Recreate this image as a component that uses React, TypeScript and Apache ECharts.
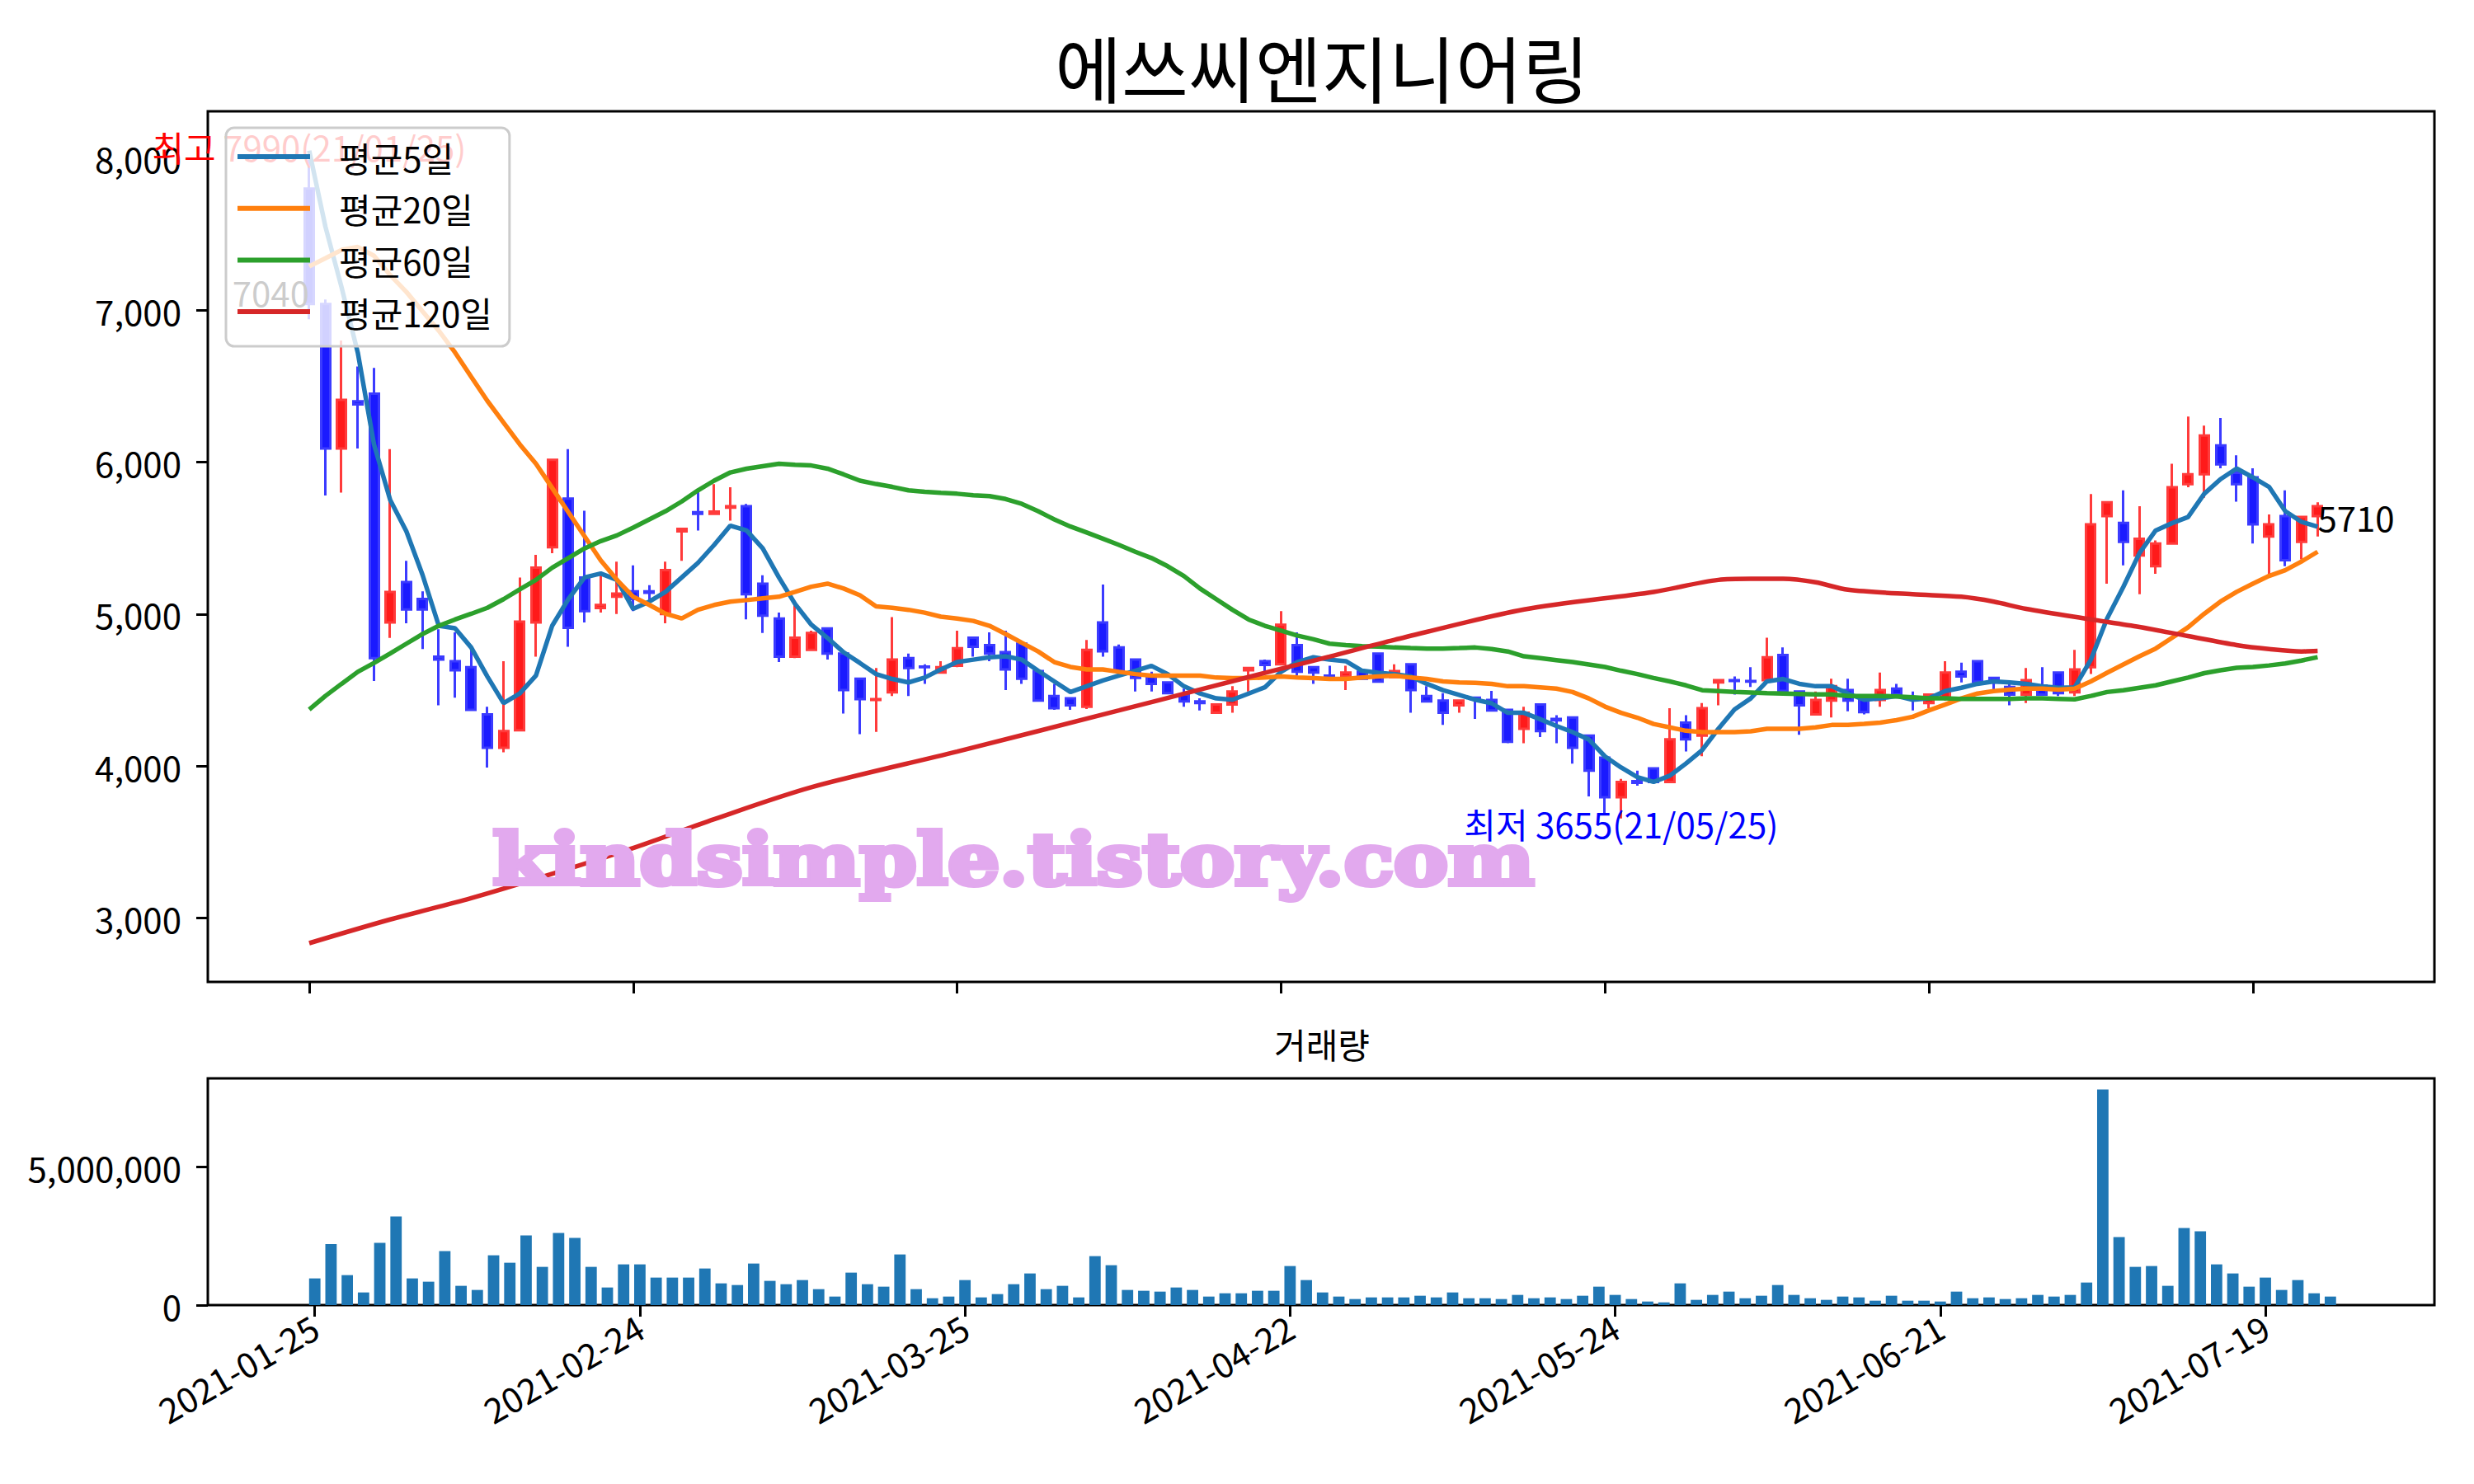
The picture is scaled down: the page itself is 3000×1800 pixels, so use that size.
import React, { useEffect, useRef } from 'react';
import * as echarts from 'echarts';

const chartTitle = '에쓰씨엔지니어링';
const volumeTitle = '거래량';
const watermark = 'kindsimple.tistory.com';
const tickIndex = [0, 20, 40, 60, 80, 100, 120];
const tickDates = ['2021-01-25', '2021-02-24', '2021-03-25', '2021-04-22', '2021-05-24', '2021-06-21', '2021-07-19'];
const priceTicks = [3000, 4000, 5000, 6000, 7000, 8000];
const volumeTicks = [0, 5000000];
const maNames = ['평균5일', '평균20일', '평균60일', '평균120일'];
const maColors = ['#1f77b4', '#ff7f0e', '#2ca02c', '#d62728'];

const openP = [
  7800, 7040, 6090, 6400, 6450, 4945, 5210, 5100, 4720, 4690, 4650, 4340, 4120, 4235, 4945, 5440, 5760, 5240, 5040, 5115,
  5150, 5150, 5000, 5545, 5670, 5660, 5700, 5710, 5200, 4970, 4720, 4765, 4905, 4740, 4575, 4435, 4485, 4710, 4655, 4615,
  4660, 4845, 4795, 4750, 4805, 4625, 4460, 4445, 4390, 4945, 4780, 4700, 4590, 4550, 4470, 4425, 4350, 4405, 4630, 4690,
  4670, 4795, 4650, 4595, 4590, 4620, 4740, 4585, 4670, 4460, 4430, 4400, 4450, 4435, 4370, 4245, 4405, 4310, 4320, 4200,
  4055, 3795, 3900, 3985, 3895, 4285, 4200, 4550, 4565, 4560, 4565, 4730, 4490, 4340, 4430, 4500, 4460, 4435, 4510, 4450,
  4415, 4445, 4620, 4690, 4580, 4520, 4470, 4530, 4615, 4485, 4650, 5645, 5600, 5385, 5315, 5465, 5855, 5920, 6110, 5930,
  5900, 5510, 5645, 5475, 5645,
];
const closeP = [
  7040, 6090, 6410, 6380, 4710, 5146, 5030, 5030, 4700, 4630, 4370, 4120, 4230, 4950, 5305, 6015, 4910, 5020, 5060, 5135,
  5100, 5140, 5290, 5560, 5660, 5675, 5710, 5130, 4990, 4720, 4845, 4875, 4740, 4500, 4440, 4440, 4700, 4645, 4650, 4650,
  4775, 4785, 4740, 4635, 4575, 4430, 4380, 4400, 4765, 4755, 4625, 4580, 4540, 4480, 4425, 4415, 4405, 4490, 4645, 4665,
  4930, 4620, 4615, 4585, 4615, 4575, 4555, 4625, 4500, 4425, 4350, 4430, 4440, 4365, 4160, 4350, 4230, 4300, 4120, 3970,
  3795, 3895, 3890, 3895, 4175, 4175, 4380, 4565, 4560, 4555, 4715, 4495, 4400, 4435, 4525, 4430, 4355, 4500, 4470, 4440,
  4470, 4615, 4590, 4555, 4550, 4470, 4565, 4470, 4480, 4635, 5590, 5735, 5475, 5495, 5465, 5835, 5920, 6175, 5985, 5855,
  5590, 5590, 5355, 5640, 5710,
];
const lowP = [
  6940, 5780, 5800, 6090, 4560, 4843, 4940, 4770, 4400, 4450, 4370, 3990, 4090, 4235, 4720, 5400, 4785, 4945, 5010, 5000,
  5020, 5060, 4940, 5350, 5550, 5655, 5615, 4965, 4875, 4685, 4710, 4760, 4700, 4345, 4210, 4225, 4460, 4460, 4540, 4615,
  4650, 4720, 4690, 4500, 4540, 4425, 4370, 4370, 4375, 4720, 4625, 4490, 4490, 4475, 4390, 4365, 4350, 4350, 4490, 4620,
  4665, 4595, 4540, 4580, 4500, 4570, 4550, 4580, 4350, 4420, 4270, 4350, 4310, 4360, 4150, 4150, 4190, 4150, 4015, 3800,
  3680, 3655, 3870, 3890, 3890, 4095, 4065, 4400, 4470, 4520, 4560, 4490, 4205, 4340, 4320, 4360, 4340, 4390, 4465, 4365,
  4380, 4430, 4550, 4550, 4495, 4400, 4415, 4465, 4460, 4460, 4605, 5200, 5320, 5130, 5265, 5460, 5835, 5765, 5960, 5740,
  5465, 5265, 5315, 5360, 5510,
];
const highP = [
  7990, 7070, 6800, 6630, 6620, 6085, 5350, 5150, 4900, 4880, 4790, 4390, 4690, 5240, 5390, 6015, 6085, 5680, 5260, 5345,
  5320, 5190, 5345, 5560, 5815, 5855, 5835, 5725, 5255, 5010, 5080, 4890, 4910, 4745, 4575, 4645, 4980, 4740, 4670, 4690,
  4890, 4845, 4880, 4890, 4810, 4630, 4540, 4450, 4830, 5195, 4800, 4700, 4620, 4555, 4510, 4445, 4410, 4525, 4650, 4700,
  5020, 4880, 4655, 4660, 4660, 4625, 4745, 4670, 4670, 4525, 4480, 4430, 4450, 4495, 4375, 4390, 4410, 4335, 4320, 4200,
  4055, 3915, 3970, 3990, 4380, 4335, 4415, 4565, 4590, 4650, 4845, 4780, 4490, 4490, 4575, 4575, 4470, 4615, 4540, 4490,
  4470, 4690, 4680, 4690, 4585, 4540, 4645, 4650, 4615, 4765, 5790, 5740, 5815, 5710, 5485, 5990, 6300, 6240, 6290, 6045,
  5960, 5655, 5815, 5640, 5735,
];
const volumes = [
  964000, 2206000, 1083000, 457000, 2246000, 3200000, 964000, 845000, 1948000, 696000,
  547000, 1799000, 1530000, 2514000, 1381000, 2604000, 2425000, 1381000, 636000, 1471000,
  1471000, 994000, 994000, 994000, 1322000, 785000, 725000, 1501000, 875000, 755000,
  904000, 576000, 308000, 1173000, 755000, 666000, 1829000, 576000, 248000, 308000,
  904000, 278000, 398000, 755000, 1143000, 576000, 696000, 278000, 1769000, 1441000,
  547000, 517000, 487000, 636000, 547000, 308000, 427000, 427000, 517000, 517000,
  1411000, 904000, 457000, 308000, 219000, 278000, 278000, 278000, 338000, 278000,
  457000, 248000, 248000, 219000, 368000, 248000, 278000, 219000, 338000, 666000,
  368000, 219000, 129000, 99000, 785000, 189000, 368000, 487000, 248000, 338000,
  725000, 368000, 248000, 189000, 308000, 278000, 159000, 338000, 159000, 159000,
  129000, 487000, 248000, 278000, 219000, 248000, 368000, 308000, 368000, 815000,
  7790000, 2455000, 1381000, 1411000, 696000, 2783000, 2663000, 1471000, 1143000, 666000,
  994000, 547000, 904000, 427000, 308000,
];
const ma5 = [
  8050, 7550, 7150, 6720, 6117, 5751, 5544, 5257, 4923, 4907, 4780, 4589, 4414, 4477, 4595, 4923, 5098, 5241, 5267, 5225,
  5034, 5082, 5146, 5241, 5337, 5455, 5582, 5550, 5432, 5241, 5066, 4930, 4843, 4748, 4678, 4605, 4573, 4550, 4582, 4636,
  4684, 4700, 4716, 4722, 4700, 4627, 4557, 4487, 4525, 4563, 4595, 4627, 4659, 4605, 4525, 4477, 4445, 4436, 4477, 4518,
  4620, 4684, 4716, 4700, 4690, 4627, 4614, 4605, 4589, 4541, 4499, 4468, 4436, 4413, 4350, 4350, 4308, 4264, 4223, 4175,
  4063, 3990, 3927, 3895, 3936, 4016, 4105, 4245, 4372, 4445, 4557, 4573, 4541, 4525, 4525, 4477, 4436, 4445, 4461, 4436,
  4445, 4493, 4515, 4541, 4557, 4550, 4541, 4525, 4515, 4518, 4700, 4971, 5178, 5401, 5550, 5598, 5639, 5792, 5888, 5958,
  5900, 5837, 5677, 5607, 5575,
];
const ma20 = [
  7288, 7342, 7397, 7416, 7358, 7231, 7120, 6992, 6865, 6722, 6562, 6403, 6260, 6117, 5989, 5830, 5671, 5512, 5353, 5225,
  5114, 5060, 5002, 4971, 5028, 5060, 5082, 5092, 5104, 5114, 5146, 5180, 5200, 5168, 5124, 5050, 5041, 5028, 5009, 4983,
  4971, 4955, 4923, 4869, 4811, 4754, 4684, 4652, 4636, 4636, 4620, 4605, 4595, 4595, 4595, 4595, 4582, 4579, 4579, 4582,
  4589, 4582, 4579, 4573, 4573, 4582, 4589, 4595, 4582, 4573, 4557, 4550, 4547, 4541, 4525, 4525, 4518, 4509, 4487, 4445,
  4391, 4350, 4318, 4277, 4254, 4232, 4223, 4223, 4223, 4229, 4245, 4245, 4245, 4254, 4270, 4270, 4277, 4286, 4302, 4324,
  4366, 4404, 4445, 4477, 4493, 4503, 4509, 4509, 4503, 4509, 4557, 4614, 4668, 4722, 4773, 4843, 4913, 5002, 5082, 5146,
  5200, 5251, 5289, 5346, 5410,
];
const ma60 = [
  4372, 4461, 4541, 4620, 4678, 4741, 4805, 4869, 4923, 4964, 5002, 5041, 5098, 5162, 5225, 5305, 5369, 5432, 5480, 5518,
  5569, 5623, 5677, 5741, 5814, 5878, 5932, 5957, 5973, 5989, 5983, 5978, 5957, 5919, 5878, 5856, 5837, 5814, 5805, 5798,
  5792, 5782, 5776, 5757, 5725, 5677, 5623, 5576, 5537, 5496, 5455, 5410, 5369, 5315, 5251, 5168, 5098, 5028, 4964, 4923,
  4891, 4859, 4834, 4805, 4796, 4789, 4786, 4780, 4776, 4773, 4773, 4776, 4780, 4770, 4754, 4722, 4710, 4697, 4684, 4668,
  4652, 4627, 4605, 4579, 4557, 4531, 4499, 4493, 4487, 4484, 4480, 4477, 4474, 4471, 4471, 4461, 4461, 4461, 4458, 4452,
  4445, 4445, 4442, 4442, 4442, 4442, 4445, 4445, 4442, 4439, 4461, 4487, 4499, 4515, 4531, 4557, 4582, 4611, 4630, 4646,
  4652, 4662, 4675, 4694, 4716,
];
const ma120Idx = [0, 5, 10, 15, 20, 25, 31, 40, 50, 55, 60, 63, 67, 75, 83, 87, 89, 91, 93, 95, 99, 102, 104, 106, 110, 113, 116, 119, 121, 123, 124];
const ma120Val = [2834, 2990, 3130, 3290, 3460, 3650, 3860, 4095, 4366, 4503, 4640, 4720, 4830, 5030, 5146, 5225, 5232, 5232, 5209, 5160, 5130, 5114, 5082, 5034, 4965, 4915, 4855, 4796, 4770, 4754, 4757];

const FONT = '"Noto Sans CJK KR", "Noto Sans", sans-serif';

export default function App() {
  const ref = useRef<HTMLDivElement>(null);
  useEffect(() => {
    const chart = echarts.init(ref.current as HTMLDivElement, null, { renderer: 'svg' });
    const candleData = openP.map((o, i) => [i, o, closeP[i], lowP[i], highP[i]]);
    const hiVal = Math.max(...highP);
    const hiIdx = highP.indexOf(hiVal);
    const loVal = Math.min(...lowP);
    const loIdx = lowP.indexOf(loVal);
    const last = closeP.length - 1;
    const maSeries: any[] = [ma5, ma20, ma60].map((arr, k) => ({
      type: 'line',
      name: maNames[k],
      xAxisIndex: 0,
      yAxisIndex: 0,
      data: arr.map((v, i) => [i, v]),
      symbol: 'none',
      showSymbol: false,
      lineStyle: { color: maColors[k], width: 5.5 },
      itemStyle: { color: maColors[k] },
      z: 3,
    }));
    maSeries.push({
      type: 'line',
      name: maNames[3],
      xAxisIndex: 0,
      yAxisIndex: 0,
      data: ma120Idx.map((x, i) => [x, ma120Val[i]]),
      symbol: 'none',
      showSymbol: false,
      smooth: 0.3,
      lineStyle: { color: maColors[3], width: 5.5 },
      itemStyle: { color: maColors[3] },
      z: 3,
    });

    const axisTickStyle = { lineStyle: { color: '#000', width: 3 }, length: 14 };
    const hiddenLine = { show: false, onZero: false };
    const option: any = {
      animation: false,
      backgroundColor: '#ffffff',
      textStyle: { fontFamily: FONT },
      grid: [
        { left: 252, width: 2700, top: 135, height: 1056, show: true, borderColor: '#000', borderWidth: 3, backgroundColor: 'rgba(0,0,0,0)' },
        { left: 252, width: 2700, top: 1308, height: 275, show: true, borderColor: '#000', borderWidth: 3, backgroundColor: 'rgba(0,0,0,0)' },
      ],
      xAxis: [
        {
          type: 'value', gridIndex: 0, min: -6.26, max: 131.21,
          axisLine: hiddenLine, splitLine: { show: false },
          axisTick: { show: true, customValues: tickIndex, ...axisTickStyle },
          axisLabel: { show: false },
        },
        {
          type: 'value', gridIndex: 1, min: -6.58, max: 130.4,
          axisLine: hiddenLine, splitLine: { show: false },
          axisTick: { show: true, customValues: tickIndex, ...axisTickStyle },
          axisLabel: {
            show: true, customValues: tickIndex, rotate: 30, fontSize: 42, color: '#000', margin: 22, fontFamily: FONT,
            formatter: (v: number) => tickDates[tickIndex.indexOf(Math.round(v))] ?? '',
          },
        },
      ],
      yAxis: [
        {
          type: 'value', gridIndex: 0, min: 2579, max: 8309,
          axisLine: hiddenLine, splitLine: { show: false },
          axisTick: { show: true, customValues: priceTicks, ...axisTickStyle },
          axisLabel: {
            show: true, customValues: priceTicks, fontSize: 42, color: '#000', margin: 32, fontFamily: FONT,
            formatter: (v: number) => Math.round(v).toLocaleString('en-US'),
          },
        },
        {
          type: 'value', gridIndex: 1, min: 0, max: 8190000,
          axisLine: hiddenLine, splitLine: { show: false },
          axisTick: { show: true, customValues: volumeTicks, ...axisTickStyle },
          axisLabel: {
            show: true, customValues: volumeTicks, fontSize: 42, color: '#000', margin: 32, fontFamily: FONT,
            formatter: (v: number) => Math.round(v).toLocaleString('en-US'),
          },
        },
      ],
      legend: {
        data: maNames,
        orient: 'vertical',
        left: 274,
        top: 155,
        padding: [14, 21, 21, 14],
        itemGap: 20.7,
        itemWidth: 88,
        itemHeight: 6,
        icon: 'rect',
        backgroundColor: 'rgba(255,255,255,0.8)',
        borderColor: '#cccccc',
        borderWidth: 3,
        borderRadius: 10,
        textStyle: { fontSize: 42, color: '#000', lineHeight: 42, padding: [0, 0, 0, 30], fontFamily: FONT },
        z: 10,
      },
      series: [
        {
          type: 'candlestick',
          name: 'price',
          xAxisIndex: 0,
          yAxisIndex: 0,
          data: candleData,
          encode: { x: 0, y: [1, 2, 3, 4] },
          barWidth: 11.5,
          itemStyle: {
            color: '#ff1a1a', color0: '#1a1aff', borderColor: '#ff3b3b', borderColor0: '#3b3bff', borderWidth: 3,
          },
          z: 2,
          markPoint: {
            symbol: 'circle',
            symbolSize: 0,
            z: 5,
            data: [
              {
                coord: [hiIdx, hiVal],
                label: { show: true, position: [0, 5], formatter: `최고 ${hiVal}(21/01/25)`, color: '#ff0000', align: 'center', verticalAlign: 'bottom', fontSize: 42, fontFamily: FONT },
              },
              {
                coord: [0, closeP[0]],
                label: { show: true, position: [0, 6], formatter: `${closeP[0]}`, color: '#000000', align: 'right', verticalAlign: 'bottom', fontSize: 42, fontFamily: FONT },
              },
              {
                coord: [loIdx, loVal],
                label: { show: true, position: [0, -15], formatter: `최저 ${loVal}(21/05/25)`, color: '#0000ff', align: 'center', verticalAlign: 'top', fontSize: 42, fontFamily: FONT },
              },
              {
                coord: [last, closeP[last]],
                label: { show: true, position: [0, -8], formatter: `${closeP[last]}`, color: '#000000', align: 'left', verticalAlign: 'top', fontSize: 42, fontFamily: FONT },
              },
            ],
          },
        },
        ...maSeries,
        {
          type: 'bar',
          name: 'volume',
          xAxisIndex: 1,
          yAxisIndex: 1,
          data: volumes.map((v, i) => [i, v]),
          barWidth: 13.8,
          itemStyle: { color: '#1f77b4' },
        },
      ],
      graphic: {
        elements: [
          {
            type: 'text', x: 1603, y: 79, z: 20,
            style: { text: chartTitle, fontSize: 88, fontFamily: FONT, fill: '#000', align: 'center', verticalAlign: 'middle' },
          },
          {
            type: 'text', x: 1603, y: 1265, z: 20,
            style: { text: volumeTitle, fontSize: 42, fontFamily: FONT, fill: '#000', align: 'center', verticalAlign: 'middle' },
          },
          {
            type: 'text', x: 1229, y: 1043, z: 8, scaleX: 1.15, scaleY: 1,
            style: {
              text: watermark, fontSize: 86, fontFamily: '"DejaVu Serif", serif', fontWeight: 'bold',
              fill: '#e2a9ee', stroke: '#e2a9ee', lineWidth: 6, align: 'center', verticalAlign: 'middle',
            },
          },
        ],
      },
    };
    chart.setOption(option);
    return () => chart.dispose();
  }, []);
  return (
    <div
      ref={ref}
      style={{ position: 'fixed', left: 0, top: 0, width: 3000, height: 1800, background: '#ffffff' }}
    />
  );
}
